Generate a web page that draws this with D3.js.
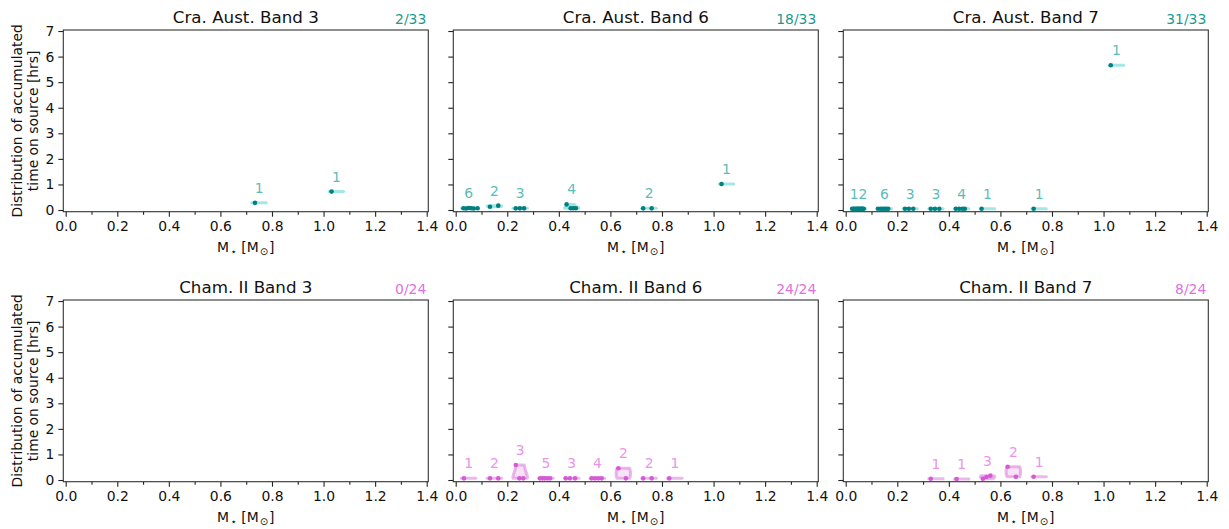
<!DOCTYPE html>
<html>
<head>
<meta charset="utf-8">
<script src="https://cdn.jsdelivr.net/npm/d3@7"></script>
<style>
  body { margin: 0; background: #fff; }
  svg { font-family: "DejaVu Sans", sans-serif; }
</style>
</head>
<body>
<svg id="chart" width="1229" height="529"></svg>
<script>
// ---- data ----
const PANEL_TITLES = [
  "Cra. Aust. Band 3", "Cra. Aust. Band 6", "Cra. Aust. Band 7",
  "Cham. II Band 3", "Cham. II Band 6", "Cham. II Band 7"
];
const PANEL_FRACTIONS = ["2/33", "18/33", "31/33", "0/24", "24/24", "8/24"];

const craB3Mass = [0.734, 1.031];
const craB3Hours = [0.28, 0.72];

const craB6Mass = [0.03, 0.04, 0.05, 0.06, 0.07, 0.085, 0.133, 0.165, 0.233, 0.249, 0.265,
  0.43, 0.446, 0.456, 0.466, 0.727, 0.76, 1.031];
const craB6Hours = [0.07, 0.06, 0.08, 0.07, 0.06, 0.07, 0.13, 0.17, 0.065, 0.065, 0.065,
  0.22, 0.07, 0.07, 0.07, 0.065, 0.065, 1.02];

const craB7Mass = [0.025, 0.03, 0.035, 0.04, 0.044, 0.048, 0.052, 0.056, 0.06, 0.063, 0.066, 0.07,
  0.125, 0.135, 0.143, 0.15, 0.158, 0.165, 0.23, 0.245, 0.262, 0.33, 0.346, 0.363,
  0.427, 0.44, 0.453, 0.462, 0.527, 0.729, 1.028];
const craB7Hours = [0.05, 0.05, 0.05, 0.05, 0.05, 0.05, 0.05, 0.05, 0.05, 0.05, 0.05, 0.05,
  0.05, 0.05, 0.05, 0.05, 0.05, 0.05, 0.05, 0.05, 0.05, 0.05, 0.05, 0.05,
  0.05, 0.05, 0.05, 0.05, 0.05, 0.05, 5.66];

const chamB3Mass = [];
const chamB3Hours = [];

const chamB6Mass = [0.032, 0.133, 0.165, 0.233, 0.247, 0.262, 0.327, 0.337, 0.346, 0.356, 0.366,
  0.427, 0.443, 0.463, 0.527, 0.54, 0.553, 0.566, 0.631, 0.66, 0.727, 0.76, 0.828];
const chamB6Hours = [0.065, 0.065, 0.065, 0.59, 0.065, 0.065, 0.065, 0.065, 0.065, 0.065, 0.065,
  0.065, 0.065, 0.065, 0.065, 0.065, 0.065, 0.065, 0.46, 0.065, 0.065, 0.065, 0.065];

const chamB7Mass = [0.33, 0.43, 0.532, 0.546, 0.561, 0.628, 0.66, 0.729];
const chamB7Hours = [0.05, 0.04, 0.05, 0.12, 0.17, 0.52, 0.13, 0.13];

const X_TICKS = [0, 0.2, 0.4, 0.6, 0.8, 1.0, 1.2, 1.4];
const X_MINOR = [0.1, 0.3, 0.5, 0.7, 0.9, 1.1, 1.3];
const Y_TICKS = [0, 1, 2, 3, 4, 5, 6, 7];

const palettes = {
  teal: { point: "#008080", body: "#48d1cc", count: "#5bbdb8", fraction: "#1a9a8f" },
  pink: { point: "#d65ad6", body: "#da70d6", count: "#eb94eb", fraction: "#e070e0" }
};

const panels = [
  { mass: craB3Mass, hours: craB3Hours, pal: palettes.teal },
  { mass: craB6Mass, hours: craB6Hours, pal: palettes.teal },
  { mass: craB7Mass, hours: craB7Hours, pal: palettes.teal },
  { mass: chamB3Mass, hours: chamB3Hours, pal: palettes.pink },
  { mass: chamB6Mass, hours: chamB6Hours, pal: palettes.pink },
  { mass: chamB7Mass, hours: chamB7Hours, pal: palettes.pink }
].map((p, i) => ({ ...p, title: PANEL_TITLES[i], fraction: PANEL_FRACTIONS[i] }));

// ---- layout ----
const colX = [63.3, 453.3, 843.3];
const rowY = [30, 300];
const W = 365, H = 181.7;
const HALF_WIDTH = 0.028;

const svg = d3.select("#chart");

// gaussian kde, scott's factor
function kde(vals, coords) {
  const n = vals.length;
  const mean = d3.mean(vals);
  const variance = d3.sum(vals, (v) => (v - mean) ** 2) / (n - 1);
  const bw = Math.sqrt(variance) * Math.pow(n, -0.2);
  return coords.map((c) => d3.sum(vals, (v) => Math.exp(-0.5 * ((c - v) / bw) ** 2)));
}

function drawPanel(p, i) {
  const col = i % 3, row = Math.floor(i / 3);
  const g = svg.append("g").attr("transform", `translate(${colX[col]}, ${rowY[row]})`);

  const x = d3.scaleLinear().domain([-0.0093, 1.4062]).range([0, W]);
  const y = d3.scaleLinear().domain([-0.066, 7.04]).range([H, 0]);

  // axes
  g.append("g").attr("transform", `translate(0, ${H})`)
    .call(d3.axisBottom(x).tickValues(X_TICKS).tickFormat(d3.format(".1f")).tickSize(5).tickPadding(4));
  g.append("g").attr("transform", `translate(0, ${H})`)
    .call(d3.axisBottom(x).tickValues(X_MINOR).tickFormat("").tickSize(3));
  g.append("g")
    .call(d3.axisLeft(y).tickValues(Y_TICKS).tickFormat(col === 0 ? d3.format("d") : "").tickSize(5).tickPadding(4));
  g.selectAll(".domain").remove();
  g.selectAll(".tick line").attr("stroke", "#222").attr("stroke-width", 1.1);
  g.selectAll(".tick text").attr("font-size", 13.9).attr("fill", "#111").attr("font-family", "DejaVu Sans");

  g.append("rect").attr("width", W).attr("height", H)
    .attr("fill", "none").attr("stroke", "#333").attr("stroke-width", 1.1);

  // titles
  g.append("text").attr("x", W / 2).attr("y", -7.5).attr("text-anchor", "middle")
    .attr("font-size", 16.7).attr("fill", "#111").text(p.title);
  g.append("text").attr("x", W - 2).attr("y", -6).attr("text-anchor", "end")
    .attr("font-size", 13.9).attr("fill", p.pal.fraction).text(p.fraction);

  // x label  M* [Msun]
  const xl = g.append("text").attr("x", W / 2).attr("y", H + 39.8).attr("text-anchor", "middle")
    .attr("font-size", 13.9).attr("fill", "#111");
  xl.append("tspan").text("M");
  xl.append("tspan").attr("font-size", 10).attr("dx", 1.5).attr("dy", 3).text("⋆");
  xl.append("tspan").attr("dy", -3).text("  [M");
  xl.append("tspan").attr("font-size", 10).attr("dx", 1).attr("dy", 3).text("⊙");
  xl.append("tspan").attr("dx", 1).attr("dy", -3).text("]");

  if (col === 0) {
    g.append("text").attr("transform", `translate(${21.5 - colX[0]}, ${H / 2}) rotate(-90)`)
      .attr("text-anchor", "middle").attr("font-size", 13.9).attr("fill", "#111")
      .text("Distribution of accumulated");
    g.append("text").attr("transform", `translate(${37.5 - colX[0]}, ${H / 2}) rotate(-90)`)
      .attr("text-anchor", "middle").attr("font-size", 13.9).attr("fill", "#111")
      .text("time on source [hrs]");
  }

  // group points into 0.1 mass bins
  const pts = p.mass.map((m, k) => ({ m, h: p.hours[k] }));
  const bins = d3.groups(pts, (d) => Math.floor(d.m * 10)).map(([b, arr]) => ({
    center: (b + 0.5) / 10,
    pts: arr,
    hours: arr.map((d) => d.h)
  }));

  // violins
  bins.forEach((b) => {
    const lo = d3.min(b.hours), hi = d3.max(b.hours);
    let path;
    if (hi - lo < 1e-9) {
      path = `M${x(b.center - HALF_WIDTH)},${y(lo)}L${x(b.center + HALF_WIDTH)},${y(lo)}`;
    } else {
      const coords = d3.range(100).map((k) => lo + (hi - lo) * k / 99);
      const dens = kde(b.hours, coords);
      const dmax = d3.max(dens);
      const left = coords.map((c, k) => [x(b.center - HALF_WIDTH * dens[k] / dmax), y(c)]);
      const right = coords.map((c, k) => [x(b.center + HALF_WIDTH * dens[k] / dmax), y(c)]).reverse();
      path = d3.line()(left.concat(right)) + "Z";
    }
    g.append("path").attr("d", path)
      .attr("fill", p.pal.body).attr("fill-opacity", 0.2)
      .attr("stroke", p.pal.body).attr("stroke-opacity", 0.5)
      .attr("stroke-width", 3).attr("stroke-linejoin", "round").attr("stroke-linecap", "round");
  });

  // points
  g.selectAll("circle.pt").data(pts).join("circle").attr("class", "pt")
    .attr("cx", (d) => x(d.m)).attr("cy", (d) => y(d.h))
    .attr("r", 2.3).attr("fill", p.pal.point);

  // counts
  g.selectAll("text.count").data(bins).join("text").attr("class", "count")
    .attr("x", (d) => x(d.center)).attr("y", (d) => y(d3.max(d.hours)) - 10)
    .attr("text-anchor", "middle").attr("font-size", 13.9).attr("fill", p.pal.count)
    .text((d) => d.pts.length);
}

panels.forEach(drawPanel);
</script>
</body>
</html>
